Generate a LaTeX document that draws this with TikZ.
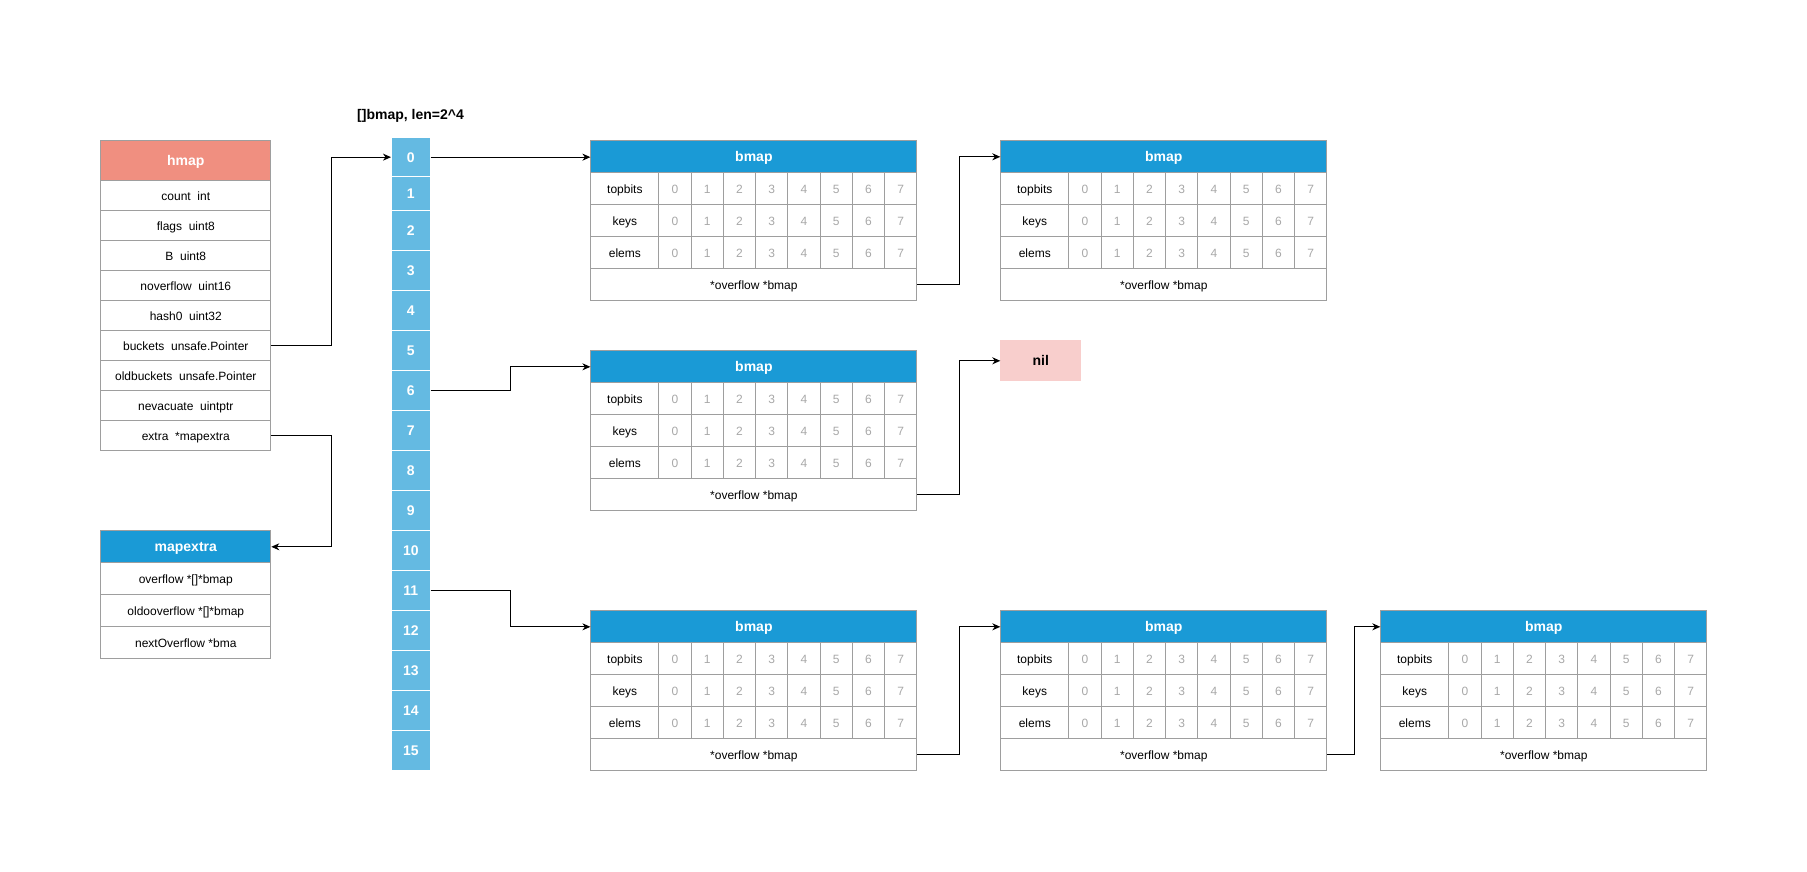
\documentclass[tikz,border=0pt]{standalone}
\usepackage{fontspec}
\setmainfont{Liberation Sans}
\usetikzlibrary{arrows.meta}
\definecolor{hmapred}{HTML}{F08F80}
\definecolor{hdrblue}{HTML}{1A9AD6}
\definecolor{arrblue}{HTML}{64BAE2}
\definecolor{nilpink}{HTML}{F8CECC}
\definecolor{bordergray}{HTML}{9E9E9E}
\definecolor{digitgray}{HTML}{A8A8A8}
\newcommand\bmapbox[3]{%
  \node[hdr, fill=hdrblue, minimum width=326pt, minimum height=32pt] (#1h) at (#2,#3) {bmap};
  \foreach \lab [count=\r] in {topbits,keys,elems} {
    \node[box, minimum width=68pt, minimum height=32pt] (#1l\r) at (#2,{#3+32*\r}) {\lab};
    \foreach \c in {0,...,7} {
      \node[box, text=digitgray, minimum width=32.25pt, minimum height=32pt] (#1c\r\c) at ({#2+68+32.25*\c},{#3+32*\r}) {\c};
    }
  }
  \node[box, minimum width=326pt, minimum height=32pt] (#1o) at (#2,{#3+128}) {*overflow *bmap};
}
\begin{document}
\begin{tikzpicture}[x=1pt,y=-1pt,
  box/.style={draw=bordergray, fill=white, line width=1pt, inner sep=0pt, anchor=north west, font=\fontsize{12}{14}\selectfont, text height=10pt, text depth=1.6pt},
  hdr/.style={box, text=white, font=\fontsize{14}{16}\selectfont\bfseries, text height=12pt, text depth=2pt},
  arrcell/.style={fill=arrblue, draw=white, line width=1pt, inner sep=0pt, anchor=north west, text=white, minimum width=38.7pt, font=\fontsize{14}{16}\selectfont\bfseries, text height=12pt, text depth=2pt},
  conn/.style={draw=black, line width=1pt, -{Stealth[length=8pt,width=7pt,inset=2.5pt]}}
]
\useasboundingbox (0,0) rectangle (1807,871);

% hmap
\node[hdr, fill=hmapred, minimum width=170pt, minimum height=40pt] (hmap) at (100.3,140.3) {hmap};
\foreach \t [count=\i] in {{count~~int},{flags~~uint8},{B~~uint8},{noverflow~~uint16},{hash0~~uint32},{buckets~~unsafe.Pointer},{oldbuckets~~unsafe.Pointer},{nevacuate~~uintptr},{extra~~*mapextra}} {
  \node[box, minimum width=170pt, minimum height=30pt] (h\i) at (100.3,{180.3+30*(\i-1)}) {\t};
}

% mapextra
\node[hdr, fill=hdrblue, minimum width=170pt, minimum height=32pt] (mx) at (100.3,530.3) {mapextra};
\foreach \t [count=\i] in {{overflow *[]*bmap},{oldooverflow *[]*bmap},{nextOverflow *bma}} {
  \node[box, minimum width=170pt, minimum height=32pt] (m\i) at (100.3,{530.3+32*\i}) {\t};
}

% bucket array
\node[font=\fontsize{14}{16}\selectfont\bfseries] (title) at (410.5,116) {[]bmap, len=2\textasciicircum 4};
\node[arrcell, minimum height=39.3pt] (c0) at (391,137) {0};
\node[arrcell, minimum height=34pt] (c1) at (391,176.3) {1};
\foreach \k in {2,...,15} {
  \node[arrcell, minimum height=40pt] (c\k) at (391,{210.3+40*(\k-2)}) {\k};
}

% bmaps
\bmapbox{A}{590.4}{140.3}
\bmapbox{B}{1000.3}{140.3}
\bmapbox{C}{590.4}{350.3}
\bmapbox{D}{590.4}{610.3}
\bmapbox{E}{1000.3}{610.3}
\bmapbox{F}{1380.3}{610.3}

\node[box, fill=nilpink, draw=nilpink, minimum width=80pt, minimum height=40pt, font=\fontsize{14}{16}\selectfont\bfseries, text height=12pt, text depth=2pt] (nil) at (1000.3,340.3) {nil};

% connectors
\draw[conn] (h6.east) -- ([xshift=60pt]h6.east) |- (c0.west);
\draw[conn] (h9.east) -- ([xshift=60pt]h9.east) |- (mx.east);
\draw[conn] (c0.east) -- (Ah.west |- c0.east);
\draw[conn] (c6.east) -- ([xshift=80pt]c6.east) |- (Ch.west);
\draw[conn] (c11.east) -- ([xshift=80pt]c11.east) |- (Dh.west);
\draw[conn] (Ao.east) -- ([xshift=41.7pt]Ao.east) |- (Bh.west);
\draw[conn] (Co.east) -- ([xshift=41.7pt]Co.east) |- (nil.west);
\draw[conn] (Do.east) -- ([xshift=41.7pt]Do.east) |- (Eh.west);
\draw[conn] (Eo.east) -- ([xshift=27pt]Eo.east) |- (Fh.west);
\end{tikzpicture}
\end{document}
